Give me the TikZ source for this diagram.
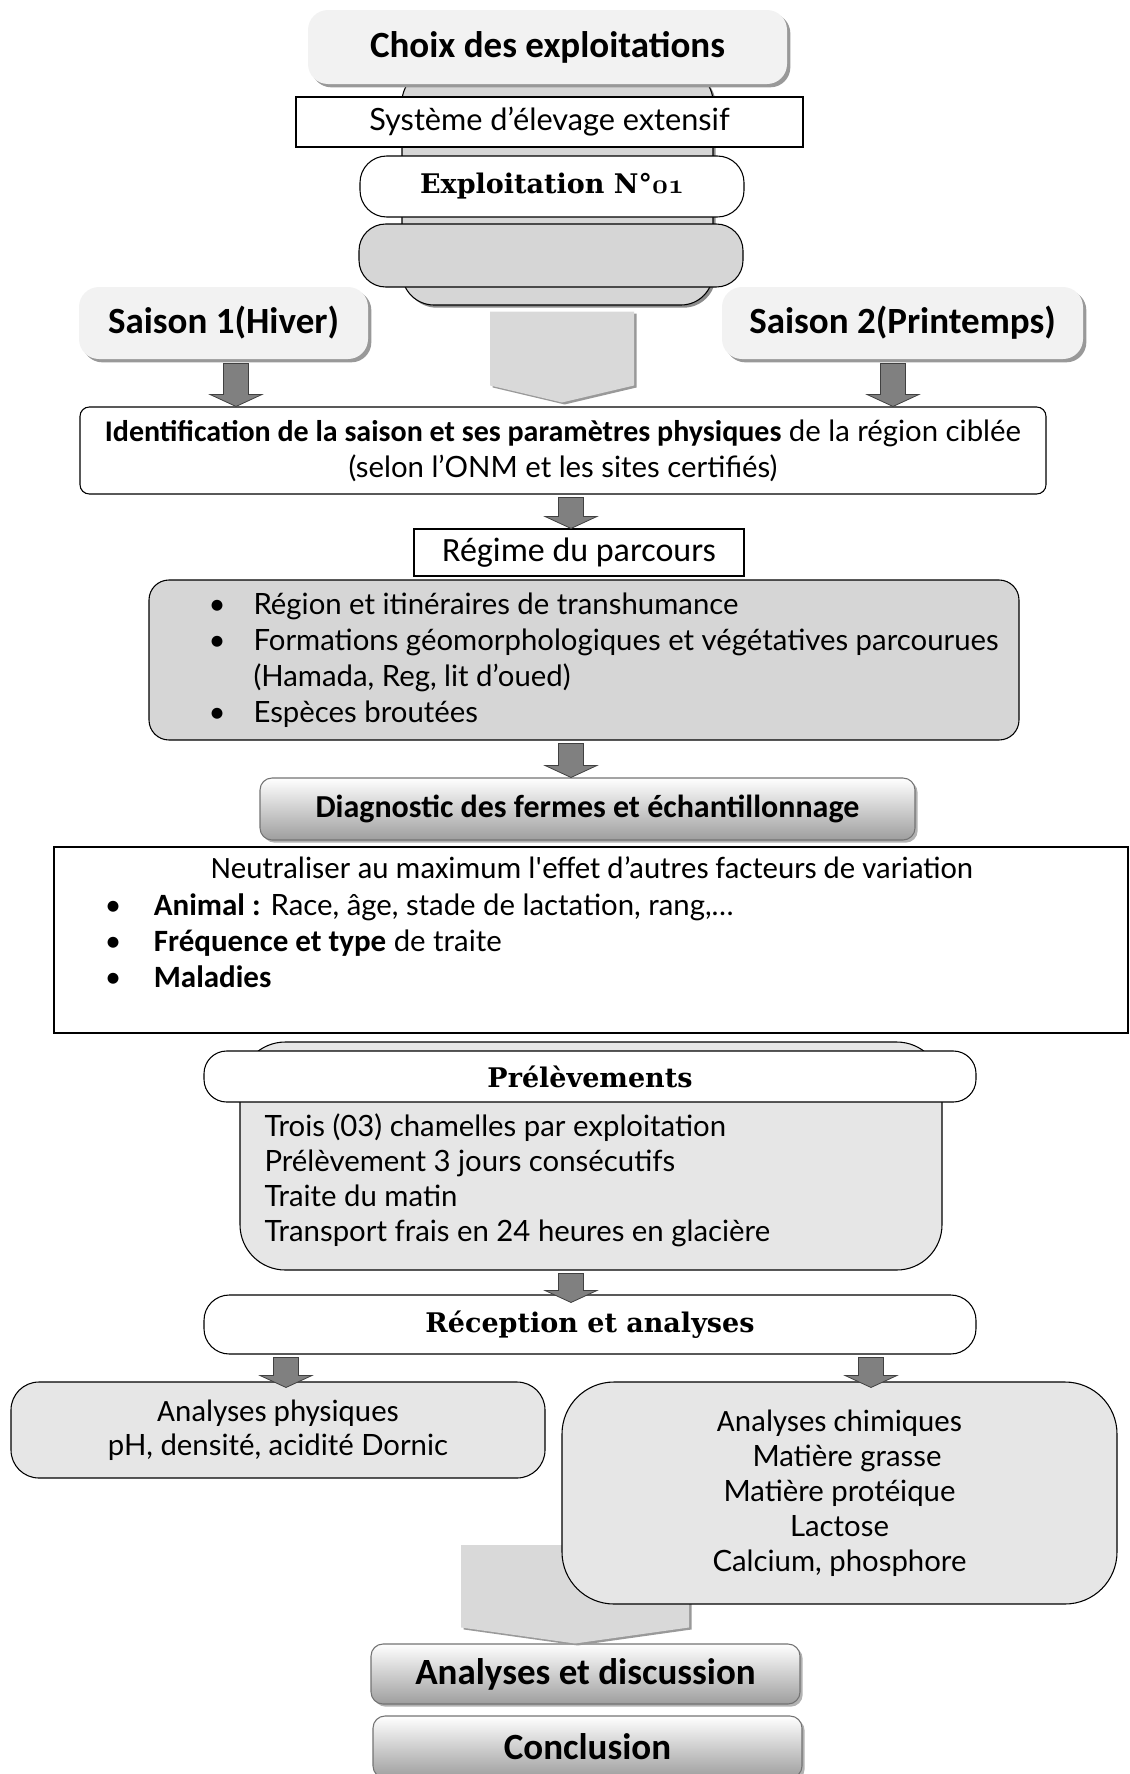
\documentclass[tikz,border=0pt]{standalone}
\usepackage{fontspec}
\newfontfamily\calib{Carlito}
\newfontfamily\cand{Lato}
\newfontfamily\dvserif{DejaVu Serif}
\usetikzlibrary{calc,shadows}

\definecolor{lightbox}{HTML}{F2F2F2}
\definecolor{midgray}{HTML}{D6D6D6}
\definecolor{palegray}{HTML}{E6E6E6}
\definecolor{arrgray}{HTML}{808080}
\definecolor{bigarrgray}{HTML}{D9D9D9}

\newcommand\titlefont{\calib\bfseries\fontsize{27.75}{33}\selectfont}
\newcommand\headfont{\dvserif\bfseries\fontsize{20.25}{24}\selectfont}
\newcommand\candfont{\cand\fontsize{22}{27}\selectfont}
\newcommand\calfont{\calib\fontsize{23.25}{27}\selectfont}
\newcommand\calbold{\calib\bfseries\fontsize{23.25}{27}\selectfont}
\newcommand\itm[2][33.75pt]{\makebox[#1][l]{\textbullet}#2}
\newcommand\oldnum[1]{{\usefont{OML}{cmm}{b}{it}\fontsize{22}{26}\selectfont #1}}

% small grey block arrow, x from the first point
\newcommand{\flowarrow}[2]{%
  \draw[smallarr] let \p1=(#1), \p2=(#2) in
    (\x1-9.4pt,\y1) -- (\x1+9.4pt,\y1) -- (\x1+9.4pt,\y2+9pt) -- (\x1+19.5pt,\y2+9pt)
    -- (\x1,\y2) -- (\x1-19.5pt,\y2+9pt) -- (\x1-9.4pt,\y2+9pt) -- cycle;}
% wide pale arrow: start, end, half width, chevron depth
\newcommand{\widearrow}[4]{%
  \fill[bigarr] let \p1=(#1), \p2=(#2) in
    (\x1-#3,\y1) -- (\x1+#3,\y1) -- (\x1+#3,\y2+#4) -- (\x1,\y2)
    -- (\x1-#3,\y2+#4) -- cycle;}

\tikzset{
  softbox/.style={rounded corners=15pt, fill=lightbox,
    drop shadow={shadow xshift=2.5pt, shadow yshift=-2.5pt, fill=black!40, opacity=1}},
  plainbox/.style={draw, fill=white},
  pillbox/.style={draw, fill=white, rounded corners=20pt},
  greybox/.style={draw, fill=midgray},
  stackbox/.style={draw, fill=midgray, rounded corners=24pt,
    drop shadow={shadow xshift=2pt, shadow yshift=-2pt, fill=black!45, opacity=1}},
  shadebox/.style={draw=black!55, rounded corners=9pt, top color=white, bottom color=black!38,
    drop shadow={shadow xshift=2pt, shadow yshift=-2pt, fill=black!30, opacity=1}},
  smallarr/.style={fill=arrgray, draw=black!75, line width=0.6pt},
  bigarr/.style={fill=bigarrgray,
    drop shadow={shadow xshift=2pt, shadow yshift=-1.5pt, fill=black!40, opacity=1}},
}

\begin{document}
\begin{tikzpicture}[x=0.75pt, y=-0.75pt, line width=0.8pt]
\useasboundingbox (0,0) rectangle (1129,1774);
\clip (0,0) rectangle (1129,1774);

% =========================
% choix des exploitations
% =========================
\node[stackbox, minimum width=233.25pt, minimum height=176.25pt] (stack) at (557.5,187.5) {};
\node[softbox, minimum width=359.25pt, minimum height=55.5pt, font=\titlefont] (choix) at (547.5,47) {Choix des exploitations};
\node[plainbox, minimum width=380.25pt, minimum height=37.5pt, font=\candfont\fontsize{23}{27}\selectfont] (systeme) at (549.5,122) {Système d’élevage extensif};
\node[pillbox, minimum width=288pt, minimum height=45.75pt, font=\headfont] (exploit) at (552,186.5) {Exploitation N°\oldnum{01}};
\node[pillbox, fill=midgray, minimum width=288pt, minimum height=47.25pt] (blank) at (551,255.5) {};

% saisons
\node[softbox, minimum width=216.75pt, minimum height=54pt, font=\titlefont] (hiver) at (223.5,323) {Saison 1(Hiver)};
\node[softbox, minimum width=270.75pt, minimum height=54pt, font=\titlefont] (printemps) at (902.5,323) {Saison 2(Printemps)};

% identification
\node[plainbox, rounded corners=7pt, minimum width=724.5pt, minimum height=65.25pt, align=center, font=\candfont] (ident) at (563,450.5)
  {{\calib\bfseries\fontsize{22.5}{27}\selectfont Identification de la saison et ses paramètres physiques} de la région ciblée\\
   (selon l’ONM et les sites certifiés)};

\widearrow{$(stack.south)+(4.5,6)$}{$(ident.north)+(0,-4)$}{54pt}{12.75pt}
\flowarrow{$(hiver.south)+(12.5,4)$}{ident.north}
\flowarrow{$(printemps.south)+(-9.5,4)$}{ident.north}

% =========================
% parcours
% =========================
\node[plainbox, minimum width=247.5pt, minimum height=35.25pt, font=\calib\fontsize{25.5}{30}\selectfont] (regime) at (579,552.5) {Régime du parcours};
\flowarrow{$(ident.south)+(8,3)$}{regime.north}

\node[greybox, rounded corners=15pt, minimum width=652.5pt, minimum height=120pt] (parcours) at (584,660) {};
\node[anchor=west, align=left, inner sep=0, font=\candfont] (parcourslist) at (208,660)
  {\itm{Région et itinéraires de transhumance}\\
   \itm{Formations géomorphologiques et végétatives parcourues}\\
   \hspace*{33.75pt}(Hamada, Reg, lit d’oued)\\
   \itm{Espèces broutées}};

\node[shadebox, minimum width=491.25pt, minimum height=46.5pt, font=\calib\bfseries\fontsize{24}{28}\selectfont] (diag) at (587.5,809) {Diagnostic des fermes et échantillonnage};
\flowarrow{$(parcours.south)+(-13,3)$}{diag.north}

% =========================
% facteurs de variation
% =========================
\node[plainbox, minimum width=805.5pt, minimum height=139.5pt] (facteurs) at (591,940) {};
\node[inner sep=0, font=\calfont] (factitle) at (592,868) {Neutraliser au maximum l'effet d’autres facteurs de variation};
\node[anchor=west, align=left, inner sep=0, font=\candfont] (factlist) at (104,941)
  {\itm[37pt]{{\calbold Animal :} Race, âge, stade de lactation, rang,…}\\
   \itm[37pt]{{\calbold Fréquence et type} de traite}\\
   \itm[37pt]{{\calbold Maladies}}};

% =========================
% prelevements
% =========================
\node[greybox, fill=palegray, rounded corners=34pt, minimum width=526.5pt, minimum height=171pt] (prelback) at (591,1156) {};
\node[pillbox, rounded corners=17pt, minimum width=579pt, minimum height=38.25pt, font=\headfont] (prelhead) at (590,1076.5) {Prélèvements};
\node[anchor=west, align=left, inner sep=0, font=\cand\fontsize{22}{26.25}\selectfont] (prellist) at (264,1180)
  {Trois (03) chamelles par exploitation\\
   Prélèvement 3 jours consécutifs\\
   Traite du matin\\
   Transport frais en 24 heures en glacière};

\node[pillbox, rounded corners=19pt, minimum width=579pt, minimum height=44.25pt, font=\headfont] (recep) at (590,1324.5) {Réception et analyses};
\flowarrow{$(prelback.south)+(-20,3)$}{$(recep.north)+(0,8)$}

% =========================
% analyses
% =========================
\node[greybox, fill=palegray, rounded corners=21pt, minimum width=400.5pt, minimum height=72pt, align=center, font=\cand\fontsize{22}{25.5}\selectfont] (phys) at (278,1430)
  {{\calfont Analyses physiques}\\ pH, densité, acidité Dornic};

\node[shadebox, minimum width=321.75pt, minimum height=45pt, font=\titlefont] (discuss) at (585.5,1674) {Analyses et discussion};
\node[shadebox, minimum width=321.75pt, minimum height=46.5pt, font=\titlefont] (concl) at (587.5,1747) {Conclusion};

\coordinate (chimback) at (575,1545);
\widearrow{chimback}{discuss.north}{85.5pt}{12pt}

\node[greybox, fill=palegray, rounded corners=39pt, minimum width=416.25pt, minimum height=166.5pt, align=center, font=\cand\fontsize{22}{26.25}\selectfont] (chim) at (839.5,1493)
  {{\calfont Analyses chimiques}\\ ~~Matière grasse\\ Matière protéique\\ Lactose\\ Calcium, phosphore};

\flowarrow{$(recep.south -| phys.north)+(8,3)$}{$(phys.north)+(0,6)$}
\flowarrow{$(recep.south -| chim.north)+(31.5,3)$}{$(chim.north)+(0,6)$}

\end{tikzpicture}
\end{document}
